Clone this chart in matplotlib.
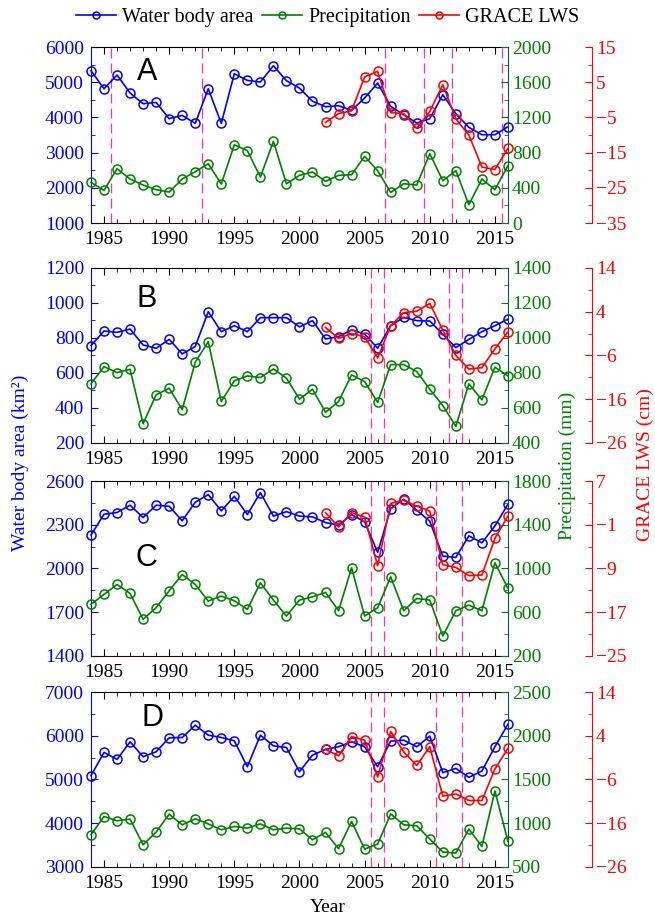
import matplotlib
matplotlib.use('Agg')
import matplotlib.pyplot as plt
from matplotlib.ticker import FixedLocator
from matplotlib.lines import Line2D
import numpy as np

plt.rcParams['font.family'] = ['Liberation Serif', 'DejaVu Serif']

years = list(range(1984, 2017))
grace_years = list(range(2002, 2017))

area_A = [5328, 4816, 5205, 4693, 4390, 4428, 3964, 4059, 3831, 4816, 3831, 5242, 5053, 5006, 5470, 5044, 4835, 4460, 4305,
          4333, 4200, 4551, 4977, 4314, 4078, 3841, 3964, 4646, 4106, 3718, 3509, 3509, 3737]
precip_A = [462, 371, 617, 500, 432, 379, 352, 500, 583, 674, 443, 890, 822, 523, 928, 447, 542, 580, 473,
            542, 549, 758, 595, 348, 447, 432, 788, 481, 595, 208, 500, 379, 652]
grace_A = [-6.4, -3.9, -3.1, 6.5, 8.1, -3.6, -3.9, -8.1, -3.3, 4.3, -5.4, -10.0, -19.1, -19.8, -13.8]

area_B = [756, 840, 832, 851, 760, 741, 792, 709, 751, 950, 836, 870, 836, 916, 916, 916, 863, 899, 794,
          808, 846, 823, 741, 870, 918, 899, 897, 821, 745, 792, 836, 870, 908]
precip_B = [738, 836, 802, 821, 510, 675, 713, 590, 861, 979, 637, 755, 783, 774, 823, 770, 650, 707, 575,
            637, 789, 751, 632, 848, 848, 808, 707, 614, 495, 738, 647, 833, 783]
grace_B = [0.4, -2.1, -1.0, -1.7, -6.6, 0.8, 3.8, 4.1, 5.9, -0.2, -6.0, -9.1, -8.8, -4.5, -0.6]

area_C = [2229, 2372, 2384, 2434, 2349, 2434, 2427, 2327, 2454, 2507, 2395, 2495, 2370, 2520, 2359, 2390, 2359, 2354, 2315,
          2297, 2370, 2320, 2110, 2411, 2475, 2400, 2324, 2085, 2076, 2224, 2176, 2292, 2441]
precip_C = [672, 763, 854, 772, 535, 642, 796, 945, 854, 702, 748, 705, 626, 869, 711, 565, 711, 741, 781,
            614, 1006, 565, 641, 924, 614, 726, 711, 383, 614, 665, 614, 1052, 818]
grace_C = [1.2, -1.4, 1.2, 0.4, -8.5, 2.9, 3.5, 2.4, 1.5, -8.3, -8.8, -10.3, -10.2, -3.5, 0.6]

area_D = [5087, 5619, 5459, 5861, 5520, 5634, 5953, 5960, 6241, 6013, 5960, 5884, 5292, 6013, 5770, 5732, 5178, 5558, 5687,
          5748, 5861, 5748, 5292, 5877, 5899, 5748, 5991, 5156, 5254, 5049, 5194, 5748, 6264]
precip_D = [868, 1077, 1028, 1047, 754, 899, 1104, 982, 1050, 993, 925, 963, 944, 993, 925, 944, 936, 811, 895,
            709, 1020, 705, 762, 1107, 982, 971, 819, 671, 659, 933, 735, 1369, 792]
grace_D = [0.9, -0.6, 3.8, 3.0, -5.4, 5.0, 0.3, -2.8, 1.5, -9.8, -9.3, -10.8, -10.8, -3.6, 1.1]

dash_A = [1985.5, 1992.5, 2006.6, 2009.55, 2011.7, 2015.55]
dash_B = [2005.5, 2006.5, 2011.5, 2012.5]
dash_C = [2005.5, 2006.5, 2010.5, 2012.5]
dash_D = [2005.5, 2006.5, 2010.5, 2012.5]

xticks = [1985, 1990, 1995, 2000, 2005, 2010, 2015]
panel_labels = ['A', 'B', 'C', 'D']
series_labels = ['Water body area', 'Precipitation', 'GRACE LWS']

BLUE = '#0000ff'
GREEN = '#008000'
RED = '#ff0000'
PINK = '#ff3399'

panels = [
    dict(area=area_A, precip=precip_A, grace=grace_A, dashes=dash_A,
         blue=(1000, 6000, 1000), green=(0, 2000, 400), red=(-35, 15, 10),
         rect=(0.1389, 0.7573, 0.6366, 0.1915), lab=(0.134, 0.86)),
    dict(area=area_B, precip=precip_B, grace=grace_B, dashes=dash_B,
         blue=(200, 1200, 200), green=(400, 1400, 200), red=(-26, 14, 10),
         rect=(0.1389, 0.518, 0.6366, 0.1904), lab=(0.134, 0.82)),
    dict(area=area_C, precip=precip_C, grace=grace_C, dashes=dash_C,
         blue=(1400, 2600, 300), green=(200, 1800, 400), red=(-25, 7, 8),
         rect=(0.1389, 0.2862, 0.6366, 0.1904), lab=(0.134, 0.56)),
    dict(area=area_D, precip=precip_D, grace=grace_D, dashes=dash_D,
         blue=(3000, 7000, 1000), green=(500, 2500, 500), red=(-26, 14, 10),
         rect=(0.1389, 0.0566, 0.6366, 0.1904), lab=(0.148, 0.85)),
]

fig = plt.figure(figsize=(6.55, 9.19), dpi=100)

FS = 14
mk = dict(marker='o', markersize=6.5, markerfacecolor='none', markeredgewidth=1.1,
          linewidth=1.2, clip_on=False)


def set_scale(a, spec):
    lo, hi, step = spec
    a.set_ylim(lo, hi)
    major = np.arange(lo, hi + step * 0.5, step)
    a.yaxis.set_major_locator(FixedLocator(major))
    a.yaxis.set_minor_locator(FixedLocator(major[:-1] + step / 2.0))


for i, p in enumerate(panels):
    ax = fig.add_axes(p['rect'])
    ax2 = ax.twinx()
    ax3 = ax.twinx()

    for xv in p['dashes']:
        ax.axvline(xv, color=PINK, lw=0.9, linestyle=(0, (8, 4)), zorder=1)

    ax.plot(years, p['area'], color=BLUE, zorder=3, **mk)
    ax2.plot(years, p['precip'], color=GREEN, zorder=3, **mk)
    ax3.plot(grace_years, p['grace'], color=RED, zorder=3, **mk)

    ax.set_xlim(1984, 2016)
    set_scale(ax, p['blue'])
    set_scale(ax2, p['green'])
    set_scale(ax3, p['red'])

    ax.set_xticks(xticks)
    ax.xaxis.set_minor_locator(FixedLocator(years))

    ax.spines['left'].set_color(BLUE)
    ax.spines['right'].set_visible(False)
    ax.spines['top'].set_color('black')
    ax.spines['bottom'].set_color('#2a0505')
    for s in ['left', 'top', 'bottom']:
        ax2.spines[s].set_visible(False)
        ax3.spines[s].set_visible(False)
    ax2.spines['right'].set_color('#005a50')
    ax3.spines['right'].set_position(('axes', 1.201))
    ax3.spines['right'].set_color(RED)

    ax.tick_params(axis='x', which='both', direction='in', top=True, bottom=True,
                   labelsize=FS, pad=6, colors='black')
    ax.tick_params(axis='x', which='major', length=5)
    ax.tick_params(axis='x', which='minor', length=3)
    ax.tick_params(axis='y', which='both', direction='in', colors=BLUE, labelsize=FS, pad=5)
    ax.tick_params(axis='y', which='major', length=5)
    ax.tick_params(axis='y', which='minor', length=3)
    ax2.tick_params(axis='y', which='both', direction='in', colors=GREEN, labelsize=FS, pad=3)
    ax2.tick_params(axis='y', which='major', length=5)
    ax2.tick_params(axis='y', which='minor', length=3)
    ax3.tick_params(axis='y', which='both', direction='in', colors=RED, labelsize=FS, pad=3)
    ax3.tick_params(axis='y', which='major', length=5)
    ax3.tick_params(axis='y', which='minor', length=3)

    ax.text(p['lab'][0], p['lab'][1], panel_labels[i], transform=ax.transAxes,
            fontsize=22, family='Liberation Sans', ha='center', va='center', zorder=5)

fig.text(0.031, 0.496, 'Water body area (km²)', rotation=90, color=BLUE,
         fontsize=14, ha='center', va='center')
fig.text(0.866, 0.493, 'Precipitation (mm)', rotation=90, color=GREEN,
         fontsize=14, ha='center', va='center')
fig.text(0.986, 0.494, 'GRACE LWS (cm)', rotation=90, color=RED,
         fontsize=14, ha='center', va='center')
fig.text(0.5, 0.013, 'Year', fontsize=14, ha='center', va='center')

handles = [Line2D([], [], color=c, marker='o', markersize=5, markerfacecolor='none',
                  markeredgewidth=1.1, linewidth=1.2) for c in (BLUE, GREEN, RED)]
fig.legend(handles, series_labels, loc='center', bbox_to_anchor=(0.5, 0.981), ncol=3,
           frameon=False, fontsize=14.5, handlelength=2.0, columnspacing=0.4,
           handletextpad=0.3)

fig.savefig('out.png', dpi=100)
